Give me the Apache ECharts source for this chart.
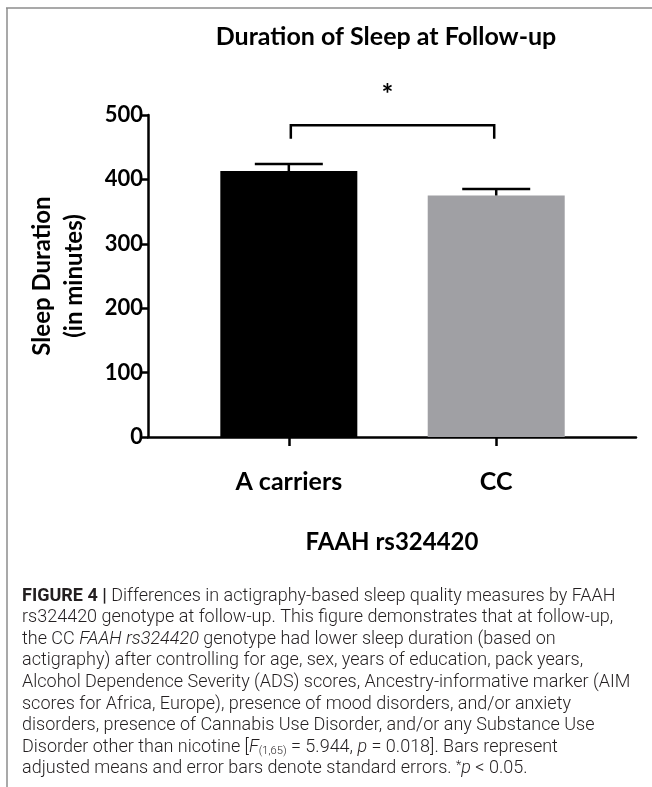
<!DOCTYPE html>
<html><head><meta charset="utf-8">
<script src="https://cdn.jsdelivr.net/npm/echarts@6/dist/echarts.min.js"></script>
<style>html,body{margin:0;padding:0;background:#fff}#c{width:652px;height:787px}</style>
</head><body><div id="c"></div>
<script>
const categories = ['A carriers', 'CC'];
const means = [413, 375];
const stdErrors = [11, 10];
const barColors = ['#000000', '#a0a0a4'];
const yTicks = [0, 100, 200, 300, 400, 500];
const sigBracketTop = 484;
const sigBracketLeg = 463;
const sigLabel = '*';
const titleText = 'Duration of Sleep at Follow-up';
const yNameLines = ['Sleep Duration', '(in minutes)'];
const xNameText = 'FAAH rs324420';
const captionLines = [
  '{b|FIGURE 4 |} Differences in actigraphy-based sleep quality measures by FAAH',
  'rs324420 genotype at follow-up. This figure demonstrates that at follow-up,',
  'the CC {i|FAAH rs324420} genotype had lower sleep duration (based on',
  'actigraphy) after controlling for age, sex, years of education, pack years,',
  'Alcohol Dependence Severity (ADS) scores, Ancestry-informative marker (AIM',
  'scores for Africa, Europe), presence of mood disorders, and/or anxiety',
  'disorders, presence of Cannabis Use Disorder, and/or any Substance Use',
  'Disorder other than nicotine [{i|F}{sub|(1,65)} = 5.944, {i|p} = 0.018]. Bars represent',
  'adjusted means and error bars denote standard errors. {sup|*}{i|p} < 0.05.'
];

const FONT = 'Lato';
const CAP_FONT = 'Roboto';
const cv = document.createElement('canvas').getContext('2d');
cv.font = '300 100px ' + CAP_FONT;
const probe = 'Alcohol Dependence Severity (ADS) scores, Ancestry-informative marker (AIM';
const capSize = Math.min(18, 100 * 624 / cv.measureText(probe).width);

const chart = echarts.init(document.getElementById('c'), null, {renderer: 'canvas'});

const capRich = {
  b: {fontFamily: CAP_FONT, fontWeight: 700, fontSize: capSize, fill: '#231f20'},
  i: {fontFamily: CAP_FONT, fontWeight: 300, fontStyle: 'italic', fontSize: capSize, fill: '#231f20'},
  sub: {fontFamily: CAP_FONT, fontWeight: 300, fontSize: capSize * 0.62, fill: '#231f20', padding: [8, 0, 0, 0]},
  sup: {fontFamily: CAP_FONT, fontWeight: 300, fontSize: capSize * 0.7, fill: '#231f20', padding: [0, 0, 6, 0]}
};

const graphics = [
  {type: 'line', shape: {x1: 7, y1: 8, x2: 7, y2: 787}, style: {stroke: '#8c8c8c', lineWidth: 1.5}},
  {type: 'line', shape: {x1: 6, y1: 8, x2: 652, y2: 8}, style: {stroke: '#8c8c8c', lineWidth: 1.5}},
  {type: 'text', x: 386, y: 37, style: {text: titleText, fontFamily: FONT, fontWeight: 700, fontSize: 25, fill: '#000', align: 'center', verticalAlign: 'middle'}}
];
captionLines.forEach((ln, i) => {
  graphics.push({type: 'text', x: 22, y: 596 + i * 21.6, style: {
    text: ln, rich: capRich, fontFamily: CAP_FONT, fontWeight: 300, fontSize: capSize,
    fill: '#231f20', align: 'left', verticalAlign: 'middle'}});
});

const option = {
  animation: false,
  backgroundColor: '#fff',
  grid: {left: 148, right: 16, top: 115, bottom: 350, containLabel: false},
  xAxis: {
    type: 'value', min: 0.321, max: 2.674,
    splitLine: {show: false},
    axisLine: {show: true, onZero: false, lineStyle: {color: '#000', width: 2.5}},
    axisTick: {show: true, customValues: [1, 2], length: 9, lineStyle: {color: '#000', width: 2.5}},
    axisLabel: {customValues: [1, 2], formatter: v => categories[Math.round(v) - 1] || '',
      fontFamily: FONT, fontWeight: 700, fontSize: 25, color: '#000', margin: 32},
    name: xNameText, nameLocation: 'middle', nameGap: 93,
    nameTextStyle: {fontFamily: FONT, fontWeight: 700, fontSize: 24, color: '#000'}
  },
  yAxis: {
    type: 'value', min: 0, max: 500, interval: 100,
    splitLine: {show: false},
    axisLine: {show: true, lineStyle: {color: '#000', width: 2.5}},
    axisTick: {show: true, length: 7, lineStyle: {color: '#000', width: 2.5}},
    axisLabel: {fontFamily: FONT, fontWeight: 700, fontSize: 22, color: '#000', margin: 5,
      formatter: v => yTicks.includes(v) ? String(v) : ''},
    name: yNameLines.join('\n'), nameLocation: 'middle', nameRotate: 90, nameGap: 58,
    nameTextStyle: {fontFamily: FONT, fontWeight: 700, fontSize: 24, color: '#000', lineHeight: 32}
  },
  series: [
    {
      type: 'bar', barWidth: 137,
      data: means.map((v, i) => ({value: [i + 1, v], itemStyle: {color: barColors[i]}})),
      z: 2
    },
    {
      type: 'custom', z: 3,
      data: means.map((v, i) => [i + 1, v, v + stdErrors[i]]),
      renderItem: (params, api) => {
        const x = api.value(0);
        const base = api.coord([x, api.value(1)]);
        const top = api.coord([x, api.value(2)]);
        const half = 34;
        return {type: 'group', children: [
          {type: 'line', shape: {x1: base[0], y1: base[1], x2: top[0], y2: top[1]}, style: {stroke: '#000', lineWidth: 2.5}},
          {type: 'line', shape: {x1: top[0] - half, y1: top[1], x2: top[0] + half, y2: top[1]}, style: {stroke: '#000', lineWidth: 2.5}}
        ]};
      }
    },
    {
      type: 'custom', z: 3, clip: false,
      data: [[1, 2, sigBracketTop, sigBracketLeg]],
      renderItem: (params, api) => {
        const a = api.coord([api.value(0), api.value(2)]);
        const b = api.coord([api.value(1), api.value(2)]);
        const aLeg = api.coord([api.value(0), api.value(3)]);
        const bLeg = api.coord([api.value(1), api.value(3)]);
        return {type: 'group', children: [
          {type: 'polyline', shape: {points: [[aLeg[0] + 2, aLeg[1]], [a[0] + 2, a[1]], [b[0] - 2, b[1]], [bLeg[0] - 2, bLeg[1]]]},
            style: {stroke: '#000', lineWidth: 2.5, fill: null}},
          {type: 'text', x: (a[0] + b[0]) / 2 - 5, y: a[1] - 30,
            style: {text: sigLabel, fontFamily: FONT, fontWeight: 700, fontSize: 28, fill: '#000', align: 'center', verticalAlign: 'middle'}}
        ]};
      }
    }
  ],
  graphic: graphics
};
chart.setOption(option);
</script>
</body></html>
